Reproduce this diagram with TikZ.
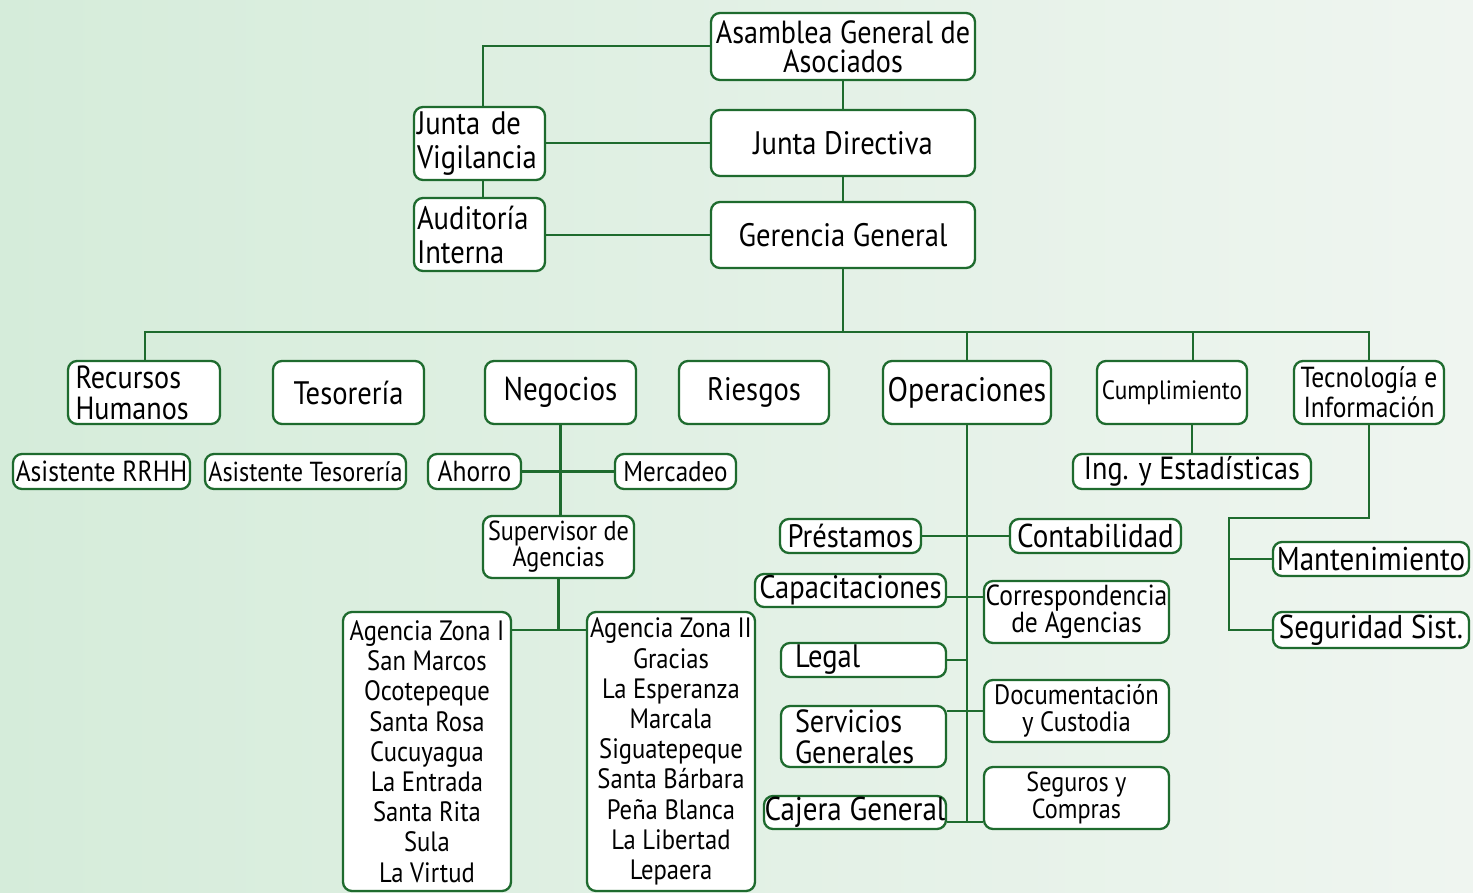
\documentclass[tikz,border=0pt]{standalone}
\usepackage{fontspec}
\setmainfont{PT Sans}[FakeStretch=0.88]
\usetikzlibrary{calc}
\definecolor{ln}{HTML}{1E6B2E}
\definecolor{bgl}{HTML}{D5ECDA}
\definecolor{bgr}{HTML}{EFF5F0}
\tikzset{
  box/.style={draw=ln,line width=2.3pt,rounded corners=9pt,fill=white,inner sep=0pt,align=center},
  conn/.style={draw=ln,line width=2.3pt},
}
\newcommand\bx[7]{\node[box,minimum width=#4pt,minimum height=#5pt,#6] (#1) at (#2,#3) {#7};}
\begin{document}
\begin{tikzpicture}[x=1pt,y=-1pt]
\useasboundingbox (0,0) rectangle (1473,893);
\shade[left color=bgl,right color=bgr] (0,0) rectangle (1473,893);
% top
\bx{asam}{843}{46.5}{264}{67}{font=\fontsize{32}{29}\selectfont}{Asamblea General de\\Asociados}
\bx{jd}{843}{143}{264}{66}{font=\fontsize{32.5}{29}\selectfont}{Junta Directiva}
\bx{gg}{843}{235}{264}{66}{font=\fontsize{32.5}{29}\selectfont}{Gerencia General}
\bx{jv}{479.5}{143.5}{131}{73}{align=left,text width=125pt,font=\fontsize{32.5}{34}\selectfont}{Junta de\\Vigilancia}
\bx{aud}{479.5}{234.5}{131}{73}{align=left,text width=125pt,font=\fontsize{32.5}{34}\selectfont}{Auditoría\\Interna}
% level 2
\bx{rh}{144}{392.5}{152}{63}{align=left,text width=137pt,font=\fontsize{32}{31}\selectfont}{Recursos\\Humanos}
\bx{tes}{348.5}{392.5}{151}{63}{font=\fontsize{32.5}{29}\selectfont}{Tesorería}
\bx{neg}{560.5}{392.5}{151}{63}{font=\fontsize{33}{29}\selectfont}{Negocios}
\bx{rie}{754}{392.5}{150}{63}{font=\fontsize{32.5}{29}\selectfont}{Riesgos}
\bx{ops}{967}{392.5}{168}{63}{font=\fontsize{34}{29}\selectfont}{Operaciones}
\bx{cum}{1172}{392.5}{150}{63}{font=\fontsize{26.5}{26}\selectfont}{Cumplimiento}
\bx{tec}{1369}{392.5}{150}{63}{font=\fontsize{29}{30}\selectfont}{Tecnología e\\Información}
% level 3
\bx{ar}{101.5}{471.5}{177}{35}{font=\fontsize{29}{26}\selectfont}{Asistente RRHH}
\bx{at}{305.5}{471.5}{201}{35}{font=\fontsize{27.5}{26}\selectfont}{Asistente Tesorería}
\bx{aho}{474.5}{471.5}{93}{35}{font=\fontsize{29}{26}\selectfont}{Ahorro}
\bx{mer}{675.5}{471.5}{121}{35}{font=\fontsize{28.5}{26}\selectfont}{Mercadeo}
\bx{ing}{1192}{471.5}{238}{35}{font=\fontsize{32}{28}\selectfont}{Ing. y Estadísticas}
\bx{sup}{558.5}{547}{151}{62}{font=\fontsize{27.5}{25}\selectfont}{Supervisor de\\Agencias}
\bx{z1}{427}{751.5}{168}{279}{font=\fontsize{28}{30.2}\selectfont}{Agencia Zona I\\San Marcos\\Ocotepeque\\Santa Rosa\\Cucuyagua\\La Entrada\\Santa Rita\\Sula\\La Virtud}
\bx{z2}{671}{751.5}{168}{279}{font=\fontsize{28}{30.2}\selectfont}{Agencia Zona II\\Gracias\\La Esperanza\\Marcala\\Siguatepeque\\Santa Bárbara\\Peña Blanca\\La Libertad\\Lepaera}
% operaciones
\bx{pre}{850.5}{536}{141}{34}{font=\fontsize{32.5}{28}\selectfont}{Préstamos}
\bx{con}{1095.5}{536}{171}{34}{font=\fontsize{33}{28}\selectfont}{Contabilidad}
\bx{cap}{850.5}{590.5}{191}{33}{font=\fontsize{32.5}{28}\selectfont}{Capacitaciones}
\bx{cor}{1076.5}{612}{185}{62}{font=\fontsize{29}{25}\selectfont}{Correspondencia\\de Agencias}
\bx{leg}{863.5}{660}{165}{34}{align=left,text width=137pt,font=\fontsize{32.5}{28}\selectfont}{Legal}
\bx{ser}{863.5}{736.5}{165}{61}{align=left,text width=137pt,font=\fontsize{32}{31}\selectfont}{Servicios\\Generales}
\bx{doc}{1076.5}{711}{185}{62}{font=\fontsize{28}{27}\selectfont}{Documentación\\y Custodia}
\bx{caj}{855}{812.5}{182}{33}{font=\fontsize{33}{28}\selectfont}{Cajera General}
\bx{seg}{1076.5}{798}{185}{62}{font=\fontsize{27.5}{25}\selectfont}{Seguros y\\Compras}
% tecnologia
\bx{man}{1371}{559}{196}{34}{font=\fontsize{33}{28}\selectfont}{Mantenimiento}
\bx{segs}{1371}{630}{196}{36}{font=\fontsize{33}{28}\selectfont}{Seguridad Sist.}
% connectors
\begin{scope}[conn]
\draw ([yshift=0.5pt]asam.west) -| ([xshift=3.5pt]jv.north);
\draw (jd.west) -- (jd.west -| jv.east);
\draw ([xshift=3.5pt]jv.south) -- ([xshift=3.5pt]aud.north);
\draw (gg.west) -- (gg.west -| aud.east);
\draw (asam.south) -- (jd.north);
\draw (jd.south) -- (gg.north);
\coordinate (bus) at (843,332);
\draw (gg.south) -- (bus);
\draw ([xshift=1pt]rh.north) |- (bus) -| (tec.north);
\draw (ops.north) -- (ops.north |- bus);
\draw ([xshift=21pt]cum.north) -- ([xshift=21pt]cum.north |- bus);
\draw (ing.north) -- (ing.north |- cum.south);
% negocios
\draw (neg.south) -- (neg.south |- sup.north);
\draw (aho.east) -- (mer.west);
\draw (sup.south) -- (sup.south |- 0,630);
\draw (z1.east |- 0,630) -- (z2.west |- 0,630);
% operaciones
\coordinate (opsend) at (967,822);
\draw (ops.south) -- (opsend);
\draw (pre.east) -- (con.west);
\draw (cap.east |- 0,597) -- (967,597);
\draw (967,597) -- (cor.west |- 0,597);
\draw (leg.east) -- (967,660);
\draw (ser.east |- doc.west) -- (doc.west);
\draw (caj.east |- opsend) -- (seg.west |- opsend);
% tecnologia
\coordinate (tj) at (1229,518);
\draw (tec.south) |- (tj) -- (tj |- segs.west) -- (segs.west);
\draw (tj |- man.west) -- (man.west);
\end{scope}
\end{tikzpicture}
\end{document}
